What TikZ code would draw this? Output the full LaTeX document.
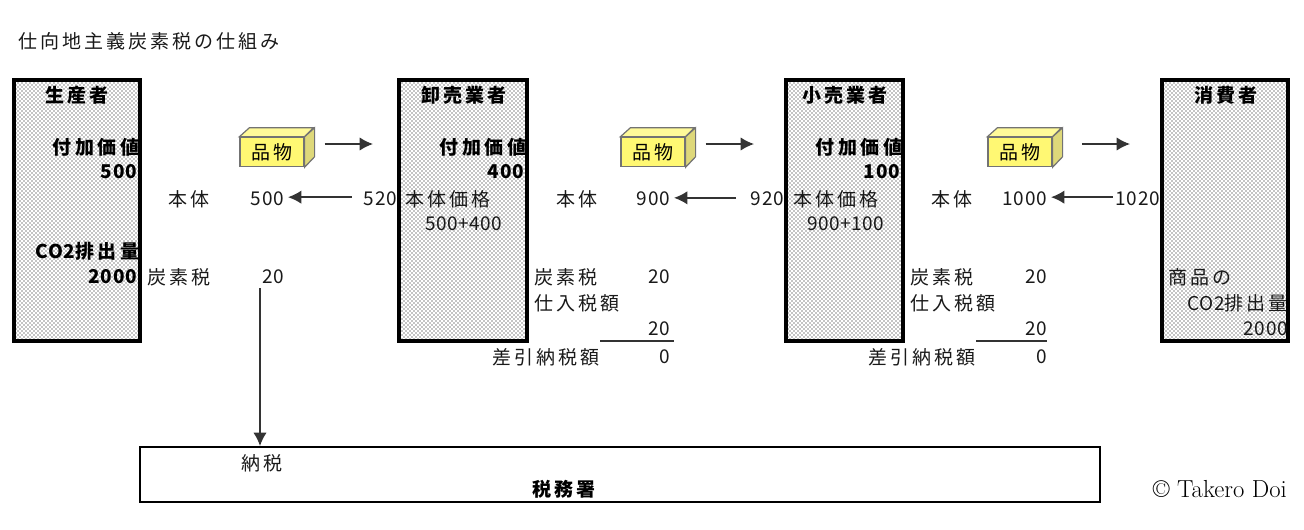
\documentclass[tikz,border=0pt]{standalone}
\usepackage{fontspec}
\usetikzlibrary{patterns,arrows.meta}
\newfontfamily\jp[LetterSpace=16]{Noto Sans CJK JP}
\newfontfamily\jpw[LetterSpace=20]{Noto Sans CJK JP}
\newfontfamily\jpn[LetterSpace=3]{Noto Sans CJK JP}
\newcommand{\fs}{\fontsize{14.25pt}{14.25pt}}
\tikzset{
 x=0.75pt,y=-0.75pt,
 lbl/.style={inner sep=0pt,font=\fs\jp,text=black!90},
 wl/.style={lbl,anchor=west}, el/.style={lbl,anchor=east},
 nwl/.style={wl,font=\fs\jpn}, nel/.style={el,font=\fs\jpn},
 bwl/.style={wl,font=\fs\jp\bfseries,text=black}, bel/.style={el,font=\fs\jpw\bfseries,text=black},
 bnel/.style={el,font=\fs\jpn\bfseries,text=black},
 actor/.style={draw=black,line width=2.4pt,fill=white,postaction={pattern=crosshatch dots,pattern color=black}},
 arr/.style={draw=black!80,line width=1.1pt,-{Latex[length=10pt,width=10pt]}},
 front/.style={draw=black!55,line width=.9pt,fill=yellow!55,minimum width=48pt,minimum height=22pt,inner sep=0pt,font=\fs\jp},
 office/.style={draw=black,line width=1.6pt,minimum width=720pt,minimum height=41.25pt,inner sep=0pt},
 rulex/.style={draw=black!80,line width=.8pt},
 goodtop/.style={fill=yellow!40,draw=black!55,line width=.9pt},
 goodside/.style={fill=yellow!75!black!60,draw=black!55,line width=.9pt},
}
\newcommand{\goods}[3]{%
 \node[front] (#1) at (#2,#3) {品物};
 \path[goodtop] (#1.north west) -- ++(10,-9) -- ++(64,0) -- (#1.north east) -- cycle;
 \path[goodside] (#1.north east) -- ++(10,-9) -- ++(0,29) -- (#1.south east) -- cycle;
}
\begin{document}
\begin{tikzpicture}
\useasboundingbox (0,0) rectangle (1304,529);
\node[wl] (title) at (18,41) {仕向地主義炭素税の仕組み};
% actors
\draw[actor] (14,80) rectangle (140,341);
\draw[actor] (399,80) rectangle (527,341);
\draw[actor] (786,80) rectangle (903,341);
\draw[actor] (1162,80) rectangle (1288,341);
% producer
\node[bwl] (p0) at (45,95) {生産者};
\node[bel] (p1) at (140,147) {付加価値};
\node[bnel] (p2) at (137,172) {500};
\node[bel] (p3) at (140,251) {{\jpn CO2}排出量};
\node[bnel] (p4) at (137,277) {2000};
\node[wl] (a1) at (168,199) {本体};
\node[nel] (a2) at (284,198.5) {500};
\node[nel] (a3) at (397,198.5) {520};
\node[wl] (a4) at (147,277) {炭素税};
\node[nel] (a5) at (284,277) {20};
% wholesale
\node[bwl] (w0) at (421,95) {卸売業者};
\node[bel] (w1) at (527,147) {付加価値};
\node[bnel] (w2) at (524,172) {400};
\node[wl] (w3) at (405,199) {本体価格};
\node[nwl] (w4) at (425,224) {500+400};
\node[wl] (b1) at (556,199) {本体};
\node[nel] (b2) at (670,198.5) {900};
\node[nel] (b3) at (784,198.5) {920};
\node[wl] (b4) at (534,277) {炭素税};
\node[nel] (b5) at (670,277) {20};
\node[wl] (b6) at (534,303) {仕入税額};
\node[nel] (b7) at (670,329) {20};
\node[el] (b8) at (600,357) {差引納税額};
\node[nel] (b9) at (670,357) {0};
% retail
\node[bwl] (r0) at (802,95) {小売業者};
\node[bel] (r1) at (903,147) {付加価値};
\node[bnel] (r2) at (900,172) {100};
\node[wl] (r3) at (793,199) {本体価格};
\node[nwl] (r4) at (807,224) {900+100};
\node[wl] (c1) at (931,199) {本体};
\node[nel] (c2) at (1047,198.5) {1000};
\node[nel] (c3) at (1160,198.5) {1020};
\node[wl] (c4) at (910,277) {炭素税};
\node[nel] (c5) at (1047,277) {20};
\node[wl] (c6) at (910,303) {仕入税額};
\node[nel] (c7) at (1047,329) {20};
\node[el] (c8) at (976,357) {差引納税額};
\node[nel] (c9) at (1047,357) {0};
% consumer
\node[bwl] (k0) at (1194,95) {消費者};
\node[wl] (k1) at (1168,277) {商品の};
\node[el] (k2) at (1288,303) {{\jpn CO2}排出量};
\node[nel] (k3) at (1288,329) {2000};
% goods
\goods{g1}{272}{152}
\goods{g2}{653}{152}
\goods{g3}{1020}{152}
\coordinate (g1t) at (373,144);
\coordinate (g2t) at (754,144);
\coordinate (g3t) at (1130,144);
\draw[arr] ([xshift=15pt]g1.east |- g1t) -- (g1t);
\draw[arr] ([xshift=15pt]g2.east |- g2t) -- (g2t);
\draw[arr] ([xshift=22pt]g3.east |- g3t) -- (g3t);
\draw[arr] ([xshift=-9pt,yshift=1pt]a3.west) -- ([xshift=3pt,yshift=1pt]a2.east);
\draw[arr] ([xshift=-11pt,yshift=0.5pt]b3.west) -- ([xshift=3pt,yshift=0.5pt]b2.east);
\draw[arr] ([xshift=-2pt,yshift=1pt]c3.west) -- ([xshift=3pt,yshift=1pt]c2.east);
% rules
\coordinate (ru1) at (600,341); \coordinate (ru2) at (674,341);
\coordinate (ru3) at (976,341); \coordinate (ru4) at (1047,341);
\draw[rulex] (ru1) -- (ru2);
\draw[rulex] (ru3) -- (ru4);
% tax office
\node[office] (office) at (620,474.5) {};
\node[bwl] (o1) at (532,489) {税務署};
\node[wl] (o2) at (241,463) {納税};
\coordinate (taxtop) at (260,288);
\coordinate (taxend) at (260,446);
\draw[arr] (taxtop) -- (taxend);
\node[anchor=east,inner sep=0pt,font=\fontsize{18.5pt}{18.5pt}\rmfamily] (copy) at (1287,489) {© Takero Doi};
\end{tikzpicture}
\end{document}
